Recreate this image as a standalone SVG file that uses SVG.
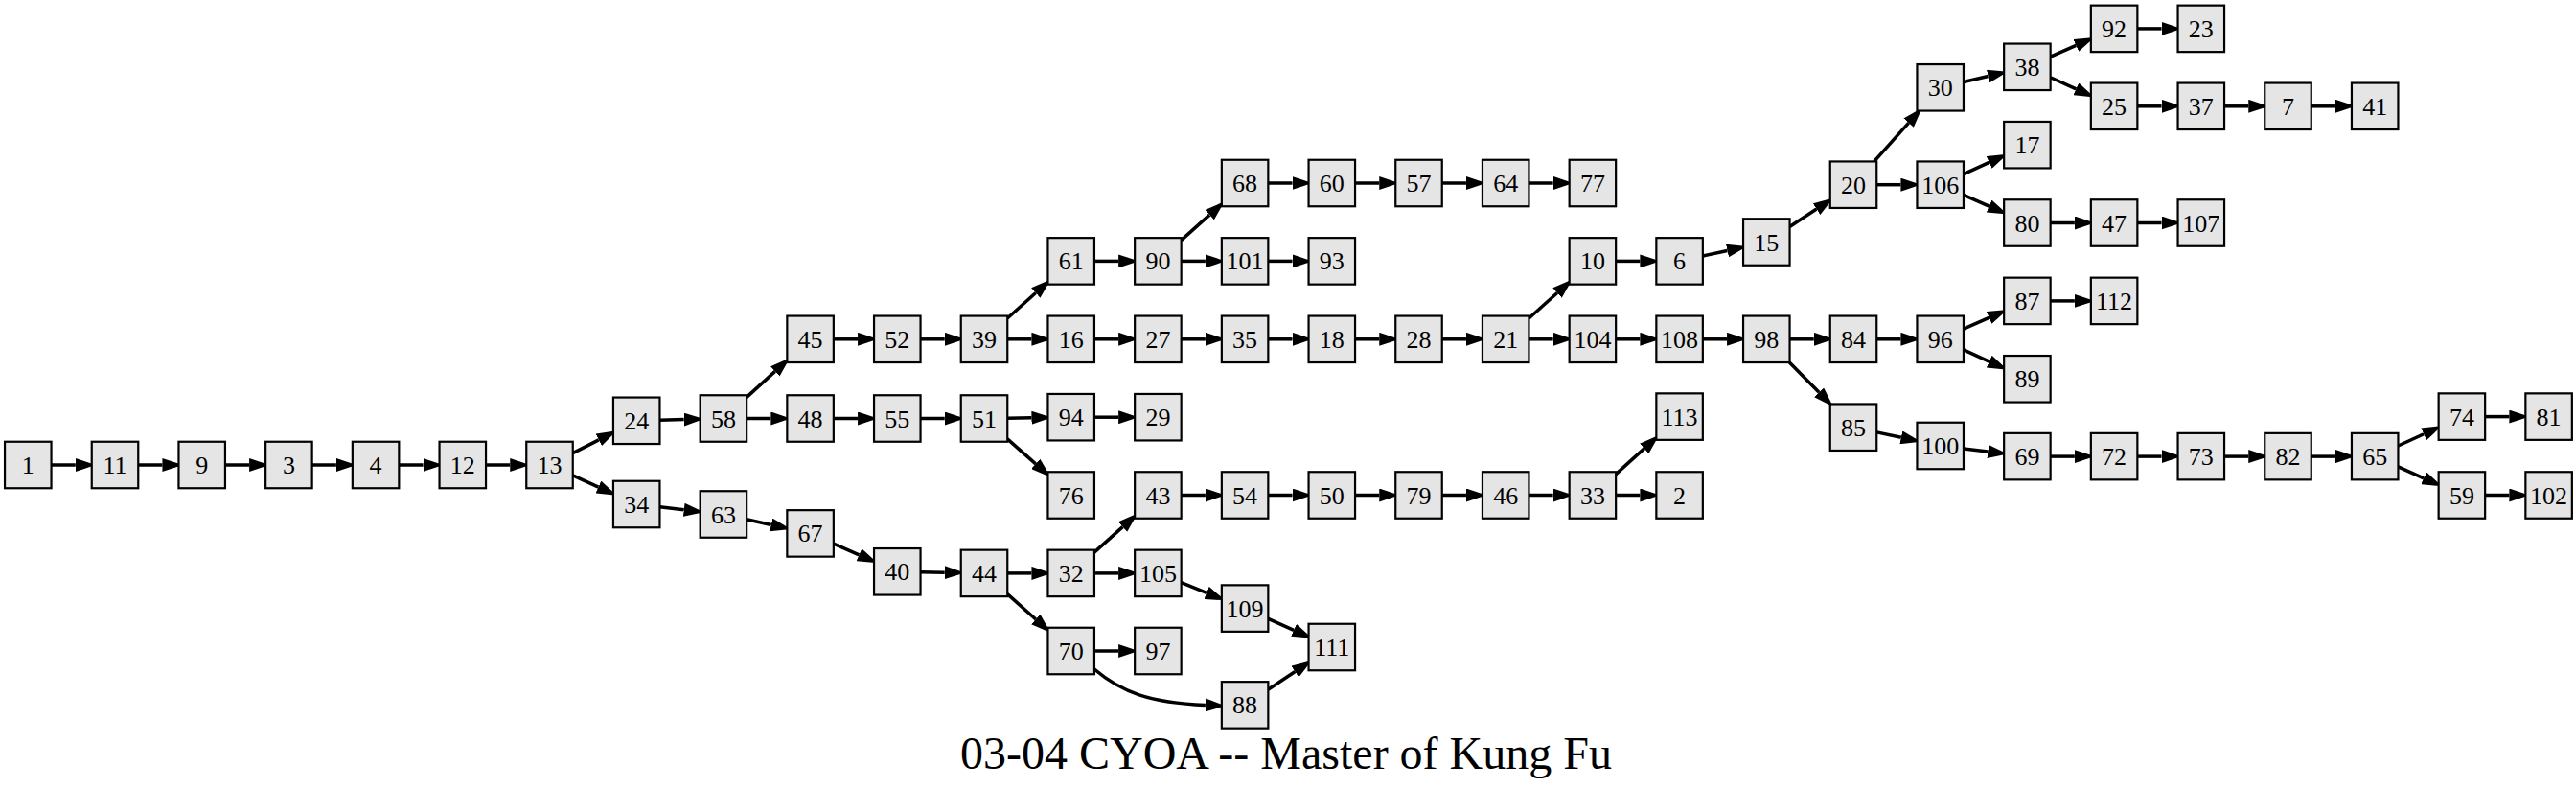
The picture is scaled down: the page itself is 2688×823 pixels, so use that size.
<svg xmlns="http://www.w3.org/2000/svg" width="2688" height="823" viewBox="0 0 2688 823">
<style>
.n rect{fill:#e5e5e5;stroke:#000;stroke-width:2.2}
.n text{font-family:"Liberation Serif","Times New Roman",serif;font-size:26px;text-anchor:middle;fill:#000}
#edges path{stroke:#000;stroke-width:3.5;fill:none;marker-end:url(#ah)}
.title{font-family:"Liberation Serif","Times New Roman",serif;font-size:48px;text-anchor:middle;fill:#000}
</style>
<defs>
<marker id="ah" markerUnits="userSpaceOnUse" markerWidth="21" markerHeight="14" viewBox="0 0 21 14" refX="0" refY="7" orient="auto"><path d="M0,0 L21,7 L0,14 z" fill="#000"/></marker>
</defs>
<rect width="2688" height="823" fill="#fff"/>
<g id="edges">
<path d="M53.55,485 L78.75,485"/>
<path d="M144.25,485 L169.45,485"/>
<path d="M234.95,485 L260.15,485"/>
<path d="M325.65,485 L350.85,485"/>
<path d="M416.35,485 L441.55,485"/>
<path d="M507.05,485 L532.25,485"/>
<path d="M597.75,472.65 L624.8,458.87"/>
<path d="M597.75,495.96 L624.46,508.04"/>
<path d="M688.45,438.18 L713.66,437.55"/>
<path d="M688.45,528.81 L713.76,531.74"/>
<path d="M779.15,414.39 L808.79,387.36"/>
<path d="M779.15,436.5 L804.35,436.5"/>
<path d="M779.15,541.82 L804.75,547.44"/>
<path d="M869.85,353.8 L895.05,353.8"/>
<path d="M869.85,436.5 L895.05,436.5"/>
<path d="M869.85,567.07 L896.49,578.78"/>
<path d="M960.55,353.8 L985.75,353.8"/>
<path d="M960.55,436.5 L985.75,436.5"/>
<path d="M960.55,596.73 L985.75,597.17"/>
<path d="M1051.25,332.03 L1080.8,305.52"/>
<path d="M1051.25,353.8 L1076.45,353.8"/>
<path d="M1051.25,436.15 L1076.45,435.79"/>
<path d="M1051.25,457.89 L1080.7,483.86"/>
<path d="M1051.25,597.9 L1076.45,597.9"/>
<path d="M1051.25,619.59 L1080.78,645.98"/>
<path d="M1141.95,272.4 L1167.15,272.4"/>
<path d="M1141.95,353.8 L1167.15,353.8"/>
<path d="M1141.95,435.2 L1167.15,435.2"/>
<path d="M1141.95,576.13 L1171.5,549.62"/>
<path d="M1141.95,597.9 L1167.15,597.9"/>
<path d="M1141.95,679 L1167.15,679"/>
<path d="M1141.95,698 C1170,722 1200,733 1257.85,735.4"/>
<path d="M1232.65,250.63 L1262.2,224.12"/>
<path d="M1232.65,272.4 L1257.85,272.4"/>
<path d="M1232.65,353.8 L1257.85,353.8"/>
<path d="M1232.65,516.5 L1257.85,516.5"/>
<path d="M1232.65,607.71 L1259.09,618.41"/>
<path d="M1323.35,191 L1348.55,191"/>
<path d="M1323.35,272.4 L1348.55,272.4"/>
<path d="M1323.35,353.8 L1348.55,353.8"/>
<path d="M1323.35,516.5 L1348.55,516.5"/>
<path d="M1323.35,645.4 L1350.02,657.28"/>
<path d="M1323.35,719.25 L1351.4,700.57"/>
<path d="M1414.05,191 L1439.25,191"/>
<path d="M1414.05,353.8 L1439.25,353.8"/>
<path d="M1414.05,516.5 L1439.25,516.5"/>
<path d="M1504.75,191 L1529.95,191"/>
<path d="M1504.75,353.8 L1529.95,353.8"/>
<path d="M1504.75,516.5 L1529.95,516.5"/>
<path d="M1595.45,191 L1620.65,191"/>
<path d="M1595.45,332.03 L1625,305.52"/>
<path d="M1595.45,353.8 L1620.65,353.8"/>
<path d="M1595.45,516.5 L1620.65,516.5"/>
<path d="M1686.15,272.4 L1711.35,272.4"/>
<path d="M1686.15,353.8 L1711.35,353.8"/>
<path d="M1686.15,494.6 L1715.73,467.89"/>
<path d="M1686.15,516.5 L1711.35,516.5"/>
<path d="M1776.85,267.08 L1802.45,261.46"/>
<path d="M1776.85,353.8 L1802.05,353.8"/>
<path d="M1867.55,236.51 L1895.56,218.05"/>
<path d="M1867.55,353.8 L1892.75,353.8"/>
<path d="M1867.23,378.05 L1898.13,409.35"/>
<path d="M1955.7,168.45 L1991.67,128.2"/>
<path d="M1958.25,192.7 L1983.45,192.7"/>
<path d="M1958.25,353.8 L1983.45,353.8"/>
<path d="M1958.25,450.86 L1983.82,456.3"/>
<path d="M2048.95,85.55 L2074.61,79.47"/>
<path d="M2048.95,181.6 L2075.69,169.37"/>
<path d="M2048.95,203.34 L2075.58,215.03"/>
<path d="M2048.95,343.13 L2075.59,331.42"/>
<path d="M2048.95,364.9 L2075.69,377.13"/>
<path d="M2048.95,467.97 L2074.28,471.06"/>
<path d="M2139.65,59.13 L2166.29,47.42"/>
<path d="M2139.65,80.76 L2166.36,92.84"/>
<path d="M2139.65,232.5 L2164.85,232.5"/>
<path d="M2139.65,313.9 L2164.85,313.9"/>
<path d="M2139.65,476.1 L2164.85,476.1"/>
<path d="M2230.35,29.9 L2255.55,29.9"/>
<path d="M2230.35,110.8 L2255.55,110.8"/>
<path d="M2230.35,232.5 L2255.55,232.5"/>
<path d="M2230.35,476.1 L2255.55,476.1"/>
<path d="M2321.05,110.8 L2346.25,110.8"/>
<path d="M2321.05,476.1 L2346.25,476.1"/>
<path d="M2411.75,110.8 L2436.95,110.8"/>
<path d="M2411.75,476.1 L2436.95,476.1"/>
<path d="M2502.45,465 L2529.19,452.77"/>
<path d="M2502.45,486.9 L2529.12,498.78"/>
<path d="M2593.15,434.6 L2618.35,434.6"/>
<path d="M2593.15,516.5 L2618.35,516.5"/>
</g>
<g id="n1" class="n" transform="translate(29.3,485)"><rect x="-24.25" y="-24.25" width="48.5" height="48.5"/><text y="9">1</text></g>
<g id="n11" class="n" transform="translate(120,485)"><rect x="-24.25" y="-24.25" width="48.5" height="48.5"/><text y="9">11</text></g>
<g id="n9" class="n" transform="translate(210.7,485)"><rect x="-24.25" y="-24.25" width="48.5" height="48.5"/><text y="9">9</text></g>
<g id="n3" class="n" transform="translate(301.4,485)"><rect x="-24.25" y="-24.25" width="48.5" height="48.5"/><text y="9">3</text></g>
<g id="n4" class="n" transform="translate(392.1,485)"><rect x="-24.25" y="-24.25" width="48.5" height="48.5"/><text y="9">4</text></g>
<g id="n12" class="n" transform="translate(482.8,485)"><rect x="-24.25" y="-24.25" width="48.5" height="48.5"/><text y="9">12</text></g>
<g id="n13" class="n" transform="translate(573.5,485)"><rect x="-24.25" y="-24.25" width="48.5" height="48.5"/><text y="9">13</text></g>
<g id="n24" class="n" transform="translate(664.2,438.8)"><rect x="-24.25" y="-24.25" width="48.5" height="48.5"/><text y="9">24</text></g>
<g id="n34" class="n" transform="translate(664.2,526)"><rect x="-24.25" y="-24.25" width="48.5" height="48.5"/><text y="9">34</text></g>
<g id="n58" class="n" transform="translate(754.9,436.5)"><rect x="-24.25" y="-24.25" width="48.5" height="48.5"/><text y="9">58</text></g>
<g id="n63" class="n" transform="translate(754.9,536.5)"><rect x="-24.25" y="-24.25" width="48.5" height="48.5"/><text y="9">63</text></g>
<g id="n45" class="n" transform="translate(845.6,353.8)"><rect x="-24.25" y="-24.25" width="48.5" height="48.5"/><text y="9">45</text></g>
<g id="n48" class="n" transform="translate(845.6,436.5)"><rect x="-24.25" y="-24.25" width="48.5" height="48.5"/><text y="9">48</text></g>
<g id="n67" class="n" transform="translate(845.6,556.4)"><rect x="-24.25" y="-24.25" width="48.5" height="48.5"/><text y="9">67</text></g>
<g id="n52" class="n" transform="translate(936.3,353.8)"><rect x="-24.25" y="-24.25" width="48.5" height="48.5"/><text y="9">52</text></g>
<g id="n55" class="n" transform="translate(936.3,436.5)"><rect x="-24.25" y="-24.25" width="48.5" height="48.5"/><text y="9">55</text></g>
<g id="n40" class="n" transform="translate(936.3,596.3)"><rect x="-24.25" y="-24.25" width="48.5" height="48.5"/><text y="9">40</text></g>
<g id="n39" class="n" transform="translate(1027,353.8)"><rect x="-24.25" y="-24.25" width="48.5" height="48.5"/><text y="9">39</text></g>
<g id="n51" class="n" transform="translate(1027,436.5)"><rect x="-24.25" y="-24.25" width="48.5" height="48.5"/><text y="9">51</text></g>
<g id="n44" class="n" transform="translate(1027,597.9)"><rect x="-24.25" y="-24.25" width="48.5" height="48.5"/><text y="9">44</text></g>
<g id="n61" class="n" transform="translate(1117.7,272.4)"><rect x="-24.25" y="-24.25" width="48.5" height="48.5"/><text y="9">61</text></g>
<g id="n16" class="n" transform="translate(1117.7,353.8)"><rect x="-24.25" y="-24.25" width="48.5" height="48.5"/><text y="9">16</text></g>
<g id="n94" class="n" transform="translate(1117.7,435.2)"><rect x="-24.25" y="-24.25" width="48.5" height="48.5"/><text y="9">94</text></g>
<g id="n76" class="n" transform="translate(1117.7,516.5)"><rect x="-24.25" y="-24.25" width="48.5" height="48.5"/><text y="9">76</text></g>
<g id="n32" class="n" transform="translate(1117.7,597.9)"><rect x="-24.25" y="-24.25" width="48.5" height="48.5"/><text y="9">32</text></g>
<g id="n70" class="n" transform="translate(1117.7,679)"><rect x="-24.25" y="-24.25" width="48.5" height="48.5"/><text y="9">70</text></g>
<g id="n90" class="n" transform="translate(1208.4,272.4)"><rect x="-24.25" y="-24.25" width="48.5" height="48.5"/><text y="9">90</text></g>
<g id="n27" class="n" transform="translate(1208.4,353.8)"><rect x="-24.25" y="-24.25" width="48.5" height="48.5"/><text y="9">27</text></g>
<g id="n29" class="n" transform="translate(1208.4,435.2)"><rect x="-24.25" y="-24.25" width="48.5" height="48.5"/><text y="9">29</text></g>
<g id="n43" class="n" transform="translate(1208.4,516.5)"><rect x="-24.25" y="-24.25" width="48.5" height="48.5"/><text y="9">43</text></g>
<g id="n105" class="n" transform="translate(1208.4,597.9)"><rect x="-24.25" y="-24.25" width="48.5" height="48.5"/><text y="9">105</text></g>
<g id="n97" class="n" transform="translate(1208.4,679)"><rect x="-24.25" y="-24.25" width="48.5" height="48.5"/><text y="9">97</text></g>
<g id="n68" class="n" transform="translate(1299.1,191)"><rect x="-24.25" y="-24.25" width="48.5" height="48.5"/><text y="9">68</text></g>
<g id="n101" class="n" transform="translate(1299.1,272.4)"><rect x="-24.25" y="-24.25" width="48.5" height="48.5"/><text y="9">101</text></g>
<g id="n35" class="n" transform="translate(1299.1,353.8)"><rect x="-24.25" y="-24.25" width="48.5" height="48.5"/><text y="9">35</text></g>
<g id="n54" class="n" transform="translate(1299.1,516.5)"><rect x="-24.25" y="-24.25" width="48.5" height="48.5"/><text y="9">54</text></g>
<g id="n109" class="n" transform="translate(1299.1,634.6)"><rect x="-24.25" y="-24.25" width="48.5" height="48.5"/><text y="9">109</text></g>
<g id="n88" class="n" transform="translate(1299.1,735.4)"><rect x="-24.25" y="-24.25" width="48.5" height="48.5"/><text y="9">88</text></g>
<g id="n60" class="n" transform="translate(1389.8,191)"><rect x="-24.25" y="-24.25" width="48.5" height="48.5"/><text y="9">60</text></g>
<g id="n93" class="n" transform="translate(1389.8,272.4)"><rect x="-24.25" y="-24.25" width="48.5" height="48.5"/><text y="9">93</text></g>
<g id="n18" class="n" transform="translate(1389.8,353.8)"><rect x="-24.25" y="-24.25" width="48.5" height="48.5"/><text y="9">18</text></g>
<g id="n50" class="n" transform="translate(1389.8,516.5)"><rect x="-24.25" y="-24.25" width="48.5" height="48.5"/><text y="9">50</text></g>
<g id="n111" class="n" transform="translate(1389.8,675)"><rect x="-24.25" y="-24.25" width="48.5" height="48.5"/><text y="9">111</text></g>
<g id="n57" class="n" transform="translate(1480.5,191)"><rect x="-24.25" y="-24.25" width="48.5" height="48.5"/><text y="9">57</text></g>
<g id="n28" class="n" transform="translate(1480.5,353.8)"><rect x="-24.25" y="-24.25" width="48.5" height="48.5"/><text y="9">28</text></g>
<g id="n79" class="n" transform="translate(1480.5,516.5)"><rect x="-24.25" y="-24.25" width="48.5" height="48.5"/><text y="9">79</text></g>
<g id="n64" class="n" transform="translate(1571.2,191)"><rect x="-24.25" y="-24.25" width="48.5" height="48.5"/><text y="9">64</text></g>
<g id="n21" class="n" transform="translate(1571.2,353.8)"><rect x="-24.25" y="-24.25" width="48.5" height="48.5"/><text y="9">21</text></g>
<g id="n46" class="n" transform="translate(1571.2,516.5)"><rect x="-24.25" y="-24.25" width="48.5" height="48.5"/><text y="9">46</text></g>
<g id="n77" class="n" transform="translate(1661.9,191)"><rect x="-24.25" y="-24.25" width="48.5" height="48.5"/><text y="9">77</text></g>
<g id="n10" class="n" transform="translate(1661.9,272.4)"><rect x="-24.25" y="-24.25" width="48.5" height="48.5"/><text y="9">10</text></g>
<g id="n104" class="n" transform="translate(1661.9,353.8)"><rect x="-24.25" y="-24.25" width="48.5" height="48.5"/><text y="9">104</text></g>
<g id="n33" class="n" transform="translate(1661.9,516.5)"><rect x="-24.25" y="-24.25" width="48.5" height="48.5"/><text y="9">33</text></g>
<g id="n6" class="n" transform="translate(1752.6,272.4)"><rect x="-24.25" y="-24.25" width="48.5" height="48.5"/><text y="9">6</text></g>
<g id="n108" class="n" transform="translate(1752.6,353.8)"><rect x="-24.25" y="-24.25" width="48.5" height="48.5"/><text y="9">108</text></g>
<g id="n113" class="n" transform="translate(1752.6,434.6)"><rect x="-24.25" y="-24.25" width="48.5" height="48.5"/><text y="9">113</text></g>
<g id="n2" class="n" transform="translate(1752.6,516.5)"><rect x="-24.25" y="-24.25" width="48.5" height="48.5"/><text y="9">2</text></g>
<g id="n15" class="n" transform="translate(1843.3,252.5)"><rect x="-24.25" y="-24.25" width="48.5" height="48.5"/><text y="9">15</text></g>
<g id="n98" class="n" transform="translate(1843.3,353.8)"><rect x="-24.25" y="-24.25" width="48.5" height="48.5"/><text y="9">98</text></g>
<g id="n20" class="n" transform="translate(1934,192.7)"><rect x="-24.25" y="-24.25" width="48.5" height="48.5"/><text y="9">20</text></g>
<g id="n84" class="n" transform="translate(1934,353.8)"><rect x="-24.25" y="-24.25" width="48.5" height="48.5"/><text y="9">84</text></g>
<g id="n85" class="n" transform="translate(1934,445.7)"><rect x="-24.25" y="-24.25" width="48.5" height="48.5"/><text y="9">85</text></g>
<g id="n30" class="n" transform="translate(2024.7,91.3)"><rect x="-24.25" y="-24.25" width="48.5" height="48.5"/><text y="9">30</text></g>
<g id="n106" class="n" transform="translate(2024.7,192.7)"><rect x="-24.25" y="-24.25" width="48.5" height="48.5"/><text y="9">106</text></g>
<g id="n96" class="n" transform="translate(2024.7,353.8)"><rect x="-24.25" y="-24.25" width="48.5" height="48.5"/><text y="9">96</text></g>
<g id="n100" class="n" transform="translate(2024.7,465)"><rect x="-24.25" y="-24.25" width="48.5" height="48.5"/><text y="9">100</text></g>
<g id="n38" class="n" transform="translate(2115.4,69.8)"><rect x="-24.25" y="-24.25" width="48.5" height="48.5"/><text y="9">38</text></g>
<g id="n17" class="n" transform="translate(2115.4,151.2)"><rect x="-24.25" y="-24.25" width="48.5" height="48.5"/><text y="9">17</text></g>
<g id="n80" class="n" transform="translate(2115.4,232.5)"><rect x="-24.25" y="-24.25" width="48.5" height="48.5"/><text y="9">80</text></g>
<g id="n87" class="n" transform="translate(2115.4,313.9)"><rect x="-24.25" y="-24.25" width="48.5" height="48.5"/><text y="9">87</text></g>
<g id="n89" class="n" transform="translate(2115.4,395.3)"><rect x="-24.25" y="-24.25" width="48.5" height="48.5"/><text y="9">89</text></g>
<g id="n69" class="n" transform="translate(2115.4,476.1)"><rect x="-24.25" y="-24.25" width="48.5" height="48.5"/><text y="9">69</text></g>
<g id="n92" class="n" transform="translate(2206.1,29.9)"><rect x="-24.25" y="-24.25" width="48.5" height="48.5"/><text y="9">92</text></g>
<g id="n25" class="n" transform="translate(2206.1,110.8)"><rect x="-24.25" y="-24.25" width="48.5" height="48.5"/><text y="9">25</text></g>
<g id="n47" class="n" transform="translate(2206.1,232.5)"><rect x="-24.25" y="-24.25" width="48.5" height="48.5"/><text y="9">47</text></g>
<g id="n112" class="n" transform="translate(2206.1,313.9)"><rect x="-24.25" y="-24.25" width="48.5" height="48.5"/><text y="9">112</text></g>
<g id="n72" class="n" transform="translate(2206.1,476.1)"><rect x="-24.25" y="-24.25" width="48.5" height="48.5"/><text y="9">72</text></g>
<g id="n23" class="n" transform="translate(2296.8,29.9)"><rect x="-24.25" y="-24.25" width="48.5" height="48.5"/><text y="9">23</text></g>
<g id="n37" class="n" transform="translate(2296.8,110.8)"><rect x="-24.25" y="-24.25" width="48.5" height="48.5"/><text y="9">37</text></g>
<g id="n107" class="n" transform="translate(2296.8,232.5)"><rect x="-24.25" y="-24.25" width="48.5" height="48.5"/><text y="9">107</text></g>
<g id="n73" class="n" transform="translate(2296.8,476.1)"><rect x="-24.25" y="-24.25" width="48.5" height="48.5"/><text y="9">73</text></g>
<g id="n7" class="n" transform="translate(2387.5,110.8)"><rect x="-24.25" y="-24.25" width="48.5" height="48.5"/><text y="9">7</text></g>
<g id="n82" class="n" transform="translate(2387.5,476.1)"><rect x="-24.25" y="-24.25" width="48.5" height="48.5"/><text y="9">82</text></g>
<g id="n41" class="n" transform="translate(2478.2,110.8)"><rect x="-24.25" y="-24.25" width="48.5" height="48.5"/><text y="9">41</text></g>
<g id="n65" class="n" transform="translate(2478.2,476.1)"><rect x="-24.25" y="-24.25" width="48.5" height="48.5"/><text y="9">65</text></g>
<g id="n74" class="n" transform="translate(2568.9,434.6)"><rect x="-24.25" y="-24.25" width="48.5" height="48.5"/><text y="9">74</text></g>
<g id="n59" class="n" transform="translate(2568.9,516.5)"><rect x="-24.25" y="-24.25" width="48.5" height="48.5"/><text y="9">59</text></g>
<g id="n81" class="n" transform="translate(2659.6,434.6)"><rect x="-24.25" y="-24.25" width="48.5" height="48.5"/><text y="9">81</text></g>
<g id="n102" class="n" transform="translate(2659.6,516.5)"><rect x="-24.25" y="-24.25" width="48.5" height="48.5"/><text y="9">102</text></g>
<text id="title" class="title" x="1342" y="802">03-04 CYOA -- Master of Kung Fu</text>
</svg>
